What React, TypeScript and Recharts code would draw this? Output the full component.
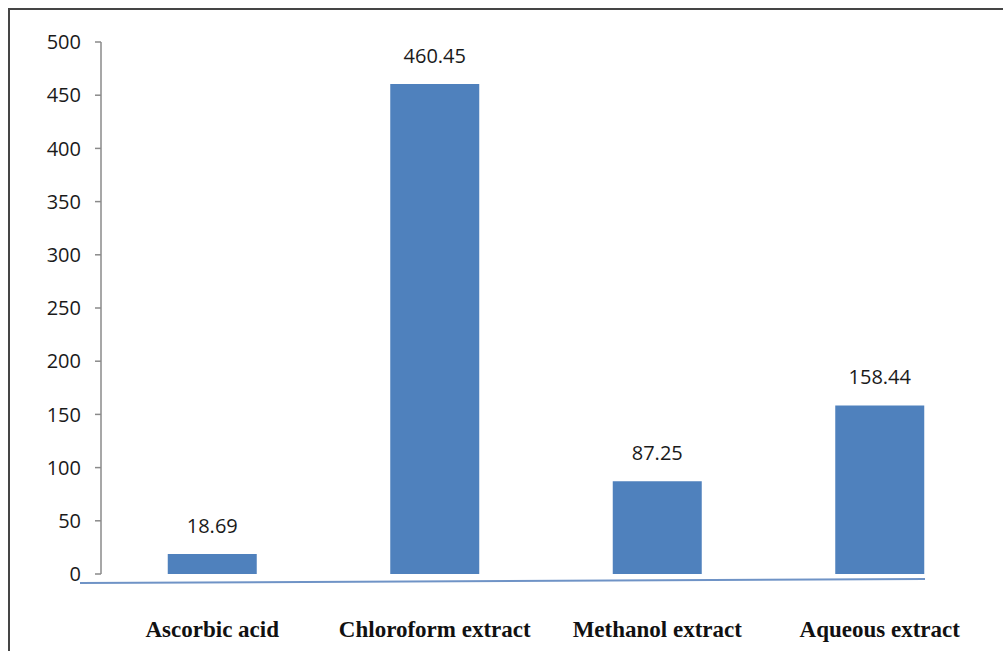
import React from 'react';
import { BarChart, Bar, XAxis, YAxis, LabelList } from 'recharts';

const categories = ['Ascorbic acid', 'Chloroform extract', 'Methanol extract', 'Aqueous extract'];
const values = [18.69, 460.45, 87.25, 158.44];
const yTicks = [0, 50, 100, 150, 200, 250, 300, 350, 400, 450, 500];

const data = categories.map((name, i) => ({ name, value: values[i] }));

const W = 1003;
const H = 651;

export default function App() {
  return (
    <div
      style={{
        position: 'absolute',
        left: 0,
        top: 0,
        width: W,
        height: H,
        overflow: 'hidden',
        background: '#fff',
      }}
    >
      {/* outer frame, right and bottom edges fall outside the page */}
      <div
        style={{
          position: 'absolute',
          left: 8,
          top: 8,
          width: W + 20,
          height: H + 20,
          border: '2px solid #454545',
          boxSizing: 'border-box',
        }}
      />
      <div style={{ position: 'absolute', left: 0, top: 0 }}>
        <BarChart
          width={W}
          height={H}
          data={data}
          margin={{ top: 42, right: 12, left: 0, bottom: 17 }}
          barCategoryGap="30%"
        >
          <YAxis
            width={101}
            domain={[0, 500]}
            ticks={yTicks}
            interval={0}
            axisLine={{ stroke: '#8a8a8a', strokeWidth: 1.5 }}
            tickLine={{ stroke: '#8a8a8a', strokeWidth: 1.5 }}
            tickSize={6}
            tickMargin={14}
            tick={{ fill: '#1a1a1a', fontSize: 20, fontFamily: 'Open Sans' }}
          />
          <XAxis
            dataKey="name"
            height={60}
            axisLine={false}
            tickLine={false}
            tickSize={0}
            tickMargin={47}
            interval={0}
            tick={{
              fill: '#111',
              fontSize: 23,
              fontWeight: 'bold',
              fontFamily: 'Liberation Serif',
            }}
          />
          <Bar dataKey="value" fill="#4f81bd" isAnimationActive={false}>
            <LabelList
              dataKey="value"
              position="top"
              offset={21}
              fill="#1a1a1a"
              fontSize={20}
              fontFamily="Open Sans"
            />
          </Bar>
        </BarChart>
      </div>
      {/* baseline under the bars */}
      <svg
        width={W}
        height={H}
        style={{ position: 'absolute', left: 0, top: 0, pointerEvents: 'none' }}
      >
        <line x1={80} y1={583} x2={925} y2={579} stroke="#6f93c6" strokeWidth={2} />
      </svg>
    </div>
  );
}
